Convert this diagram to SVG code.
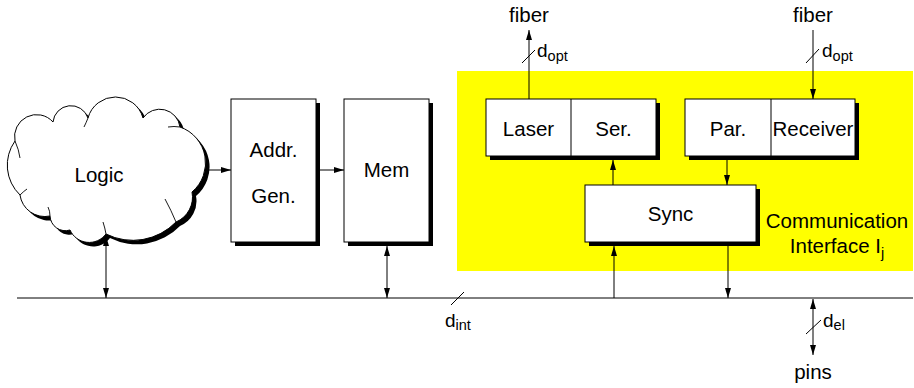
<svg xmlns="http://www.w3.org/2000/svg" width="914" height="388" viewBox="0 0 914 388">
<defs>
<marker id="ah" viewBox="0 0 10 6" refX="10" refY="3" markerWidth="10" markerHeight="6" markerUnits="userSpaceOnUse" orient="auto-start-reverse">
<path d="M0,0 L10,3 L0,6 Z" fill="#000"/>
</marker>
<path id="cloud" d="M15,141 A22,22 0 0 1 53,122 A18,18 0 0 1 88,118 A28.5,28.5 0 0 1 143,118 A20.4,20.4 0 0 1 180,127 A38,38 0 0 1 192,192 A27,27 0 0 1 176,222 A60,60 0 0 1 106,234 A21,21 0 0 1 70,230 A15.4,15.4 0 0 1 50,216 A25,25 0 0 1 20,195 A41.5,41.5 0 0 1 15,141 Z"/>
</defs>
<style>
text{font-family:"Liberation Sans",Arial,sans-serif;fill:#000}
.lbl{font-size:20.5px;text-anchor:middle}
.d{font-size:19px}
.sub{font-size:14.5px}
.box{fill:#fff;stroke:#000;stroke-width:1}
.sh{fill:#000}
.ln{stroke:#000;stroke-width:1;fill:none}
.curl{stroke:#000;stroke-width:0.9;fill:none}
.arr{stroke:#000;stroke-width:1;fill:none;marker-end:url(#ah)}
.arr2{stroke:#000;stroke-width:1;fill:none;marker-end:url(#ah);marker-start:url(#ah)}
</style>
<rect x="457" y="71" width="456" height="200" fill="#ffff00"/>
<g id="logic">
<use href="#cloud" transform="translate(4,4)" fill="#000"/>
<use href="#cloud" fill="#fff" stroke="#000" stroke-width="1"/>
<path class="curl" d="M15,141 Q19,150 20,158"/>
<path class="curl" d="M88,118 Q86,123 84,127"/>
<path class="curl" d="M180,127 Q174,126 168,127"/>
<path class="curl" d="M176,222 Q171,210 165,199"/>
<path class="curl" d="M106,234 Q105,228 103,222"/>
<path class="curl" d="M50,216 Q50,211 48,207"/>
<path class="curl" d="M20,195 Q24,191 27,189"/>
<text class="lbl" x="99" y="182">Logic</text>
</g>
<g id="addrgen">
<rect class="sh" x="235" y="103" width="85" height="143"/>
<rect class="box" x="231" y="99" width="85" height="143"/>
<text class="lbl" x="273.5" y="157">Addr.</text>
<text class="lbl" x="273.5" y="203">Gen.</text>
</g>
<g id="mem">
<rect class="sh" x="348" y="103" width="85" height="143"/>
<rect class="box" x="344" y="99" width="85" height="143"/>
<text class="lbl" x="386.5" y="177">Mem</text>
</g>
<g id="laser-ser">
<rect class="sh" x="490" y="103" width="170" height="57"/>
<rect class="box" x="486" y="99" width="170" height="57"/>
<line class="ln" x1="571" y1="99" x2="571" y2="156"/>
<text class="lbl" x="528.5" y="136">Laser</text>
<text class="lbl" x="613.5" y="136">Ser.</text>
</g>
<g id="par-receiver">
<rect class="sh" x="689" y="103" width="170" height="57"/>
<rect class="box" x="685" y="99" width="170" height="57"/>
<line class="ln" x1="771" y1="99" x2="771" y2="156"/>
<text class="lbl" x="728" y="136">Par.</text>
<text class="lbl" x="813" y="136">Receiver</text>
</g>
<g id="sync">
<rect class="sh" x="589" y="189" width="171" height="57"/>
<rect class="box" x="585" y="185" width="171" height="57"/>
<text class="lbl" x="670.5" y="221">Sync</text>
</g>
<g id="comm-label">
<text class="lbl" x="837" y="228">Communication</text>
<text class="lbl" x="837" y="253">Interface I<tspan class="sub" dy="5">j</tspan></text>
</g>
<g id="connectors">
<line class="ln" x1="17" y1="298" x2="913" y2="298"/>
<line class="arr" x1="207" y1="170" x2="231" y2="170"/>
<line class="arr" x1="320" y1="170" x2="344" y2="170"/>
<line class="arr2" x1="106" y1="236" x2="106" y2="298"/>
<line class="arr2" x1="387" y1="246" x2="387" y2="298"/>
<line class="arr" x1="529" y1="99" x2="529" y2="30"/>
<line class="ln" x1="522" y1="63" x2="535" y2="50"/>
<line class="arr" x1="813" y1="30" x2="813" y2="99"/>
<line class="ln" x1="806" y1="63" x2="819" y2="49"/>
<line class="arr" x1="613" y1="185" x2="613" y2="160"/>
<line class="arr" x1="727" y1="160" x2="727" y2="185"/>
<line class="arr" x1="614" y1="298" x2="614" y2="246"/>
<line class="arr" x1="728" y1="246" x2="728" y2="298"/>
<line class="ln" x1="451" y1="305" x2="464" y2="292"/>
<line class="arr2" x1="813" y1="299" x2="813" y2="355"/>
<line class="ln" x1="806" y1="334" x2="821" y2="320"/>
</g>
<g id="labels">
<text class="lbl" x="529" y="22">fiber</text>
<text class="lbl" x="813" y="22">fiber</text>
<text class="d" x="537" y="57">d<tspan class="sub" dy="4">opt</tspan></text>
<text class="d" x="822" y="57">d<tspan class="sub" dy="4">opt</tspan></text>
<text class="d" x="445" y="327">d<tspan class="sub" dy="3">int</tspan></text>
<text class="d" x="823" y="327">d<tspan class="sub" dy="3">el</tspan></text>
<text class="lbl" x="813" y="379">pins</text>
</g>
</svg>
